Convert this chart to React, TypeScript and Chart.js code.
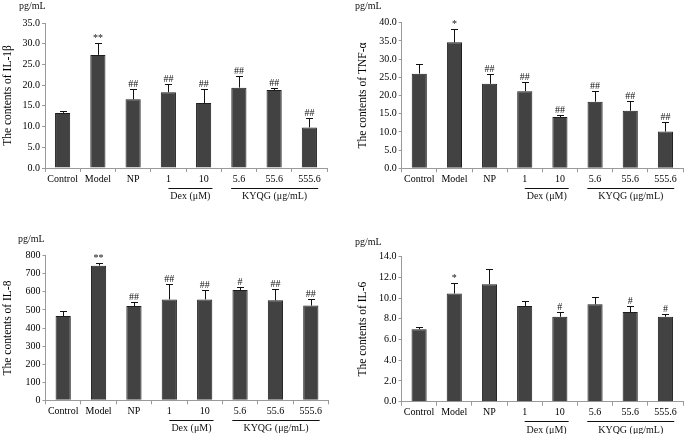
import React, { useEffect, useRef } from 'react';
import { Chart, registerables } from 'chart.js';

Chart.register(...registerables);

// ---------- data ----------
const categories = ['Control', 'Model', 'NP', '1', '10', '5.6', '55.6', '555.6'];

const il1bMeans = [13.3, 27.3, 16.6, 18.3, 15.7, 19.4, 18.8, 9.8];
const il1bSD = [0.5, 2.8, 2.4, 1.9, 3.3, 2.7, 0.4, 2.2];
const il1bMarks = ['', '**', '##', '##', '##', '##', '##', '##'];

const tnfMeans = [26.0, 34.6, 23.2, 21.2, 14.1, 18.3, 15.8, 10.1];
const tnfSD = [2.6, 3.6, 2.7, 2.4, 0.5, 2.8, 2.8, 2.7];
const tnfMarks = ['', '*', '##', '##', '##', '##', '##', '##'];

const il8Means = [466, 745, 522, 558, 558, 610, 553, 524];
const il8SD = [28, 16, 22, 83, 54, 15, 63, 36];
const il8Marks = ['', '**', '##', '##', '##', '#', '##', '##'];

const il6Means = [7.0, 10.45, 11.35, 9.25, 8.2, 9.4, 8.65, 8.2];
const il6SD = [0.24, 0.98, 1.43, 0.47, 0.49, 0.74, 0.55, 0.23];
const il6Marks = ['', '*', '', '', '#', '', '#', '#'];

const groupLabels = ['Dex (μM)', 'KYQG (μg/mL)'];
const groupFrom = [3, 5];
const groupTo = [4, 7];

const unitLabel = 'pg/mL';

// ---------- style ----------
const FONT = '"Liberation Serif", "Times New Roman", serif';
const AXIS = '#9a9a9a';
const BAR_FILL = '#424242';
const BAR_BORDER = '#1e1e1e';

type PanelCfg = {
  title: string;
  means: number[];
  sd: number[];
  marks: string[];
  max: number;
  step: number;
  decimals: number;
  left: number;
  top: number;
  w: number;
  h: number;
  yW: number;
  xH: number;
  padTop: number;
  padRight: number;
  titlePad: number;
  unitX: number;
  unitY: number;
};

const panels: PanelCfg[] = [
  {
    title: 'The contents of IL-1β', means: il1bMeans, sd: il1bSD, marks: il1bMarks,
    max: 35, step: 5, decimals: 1,
    left: 0, top: 0, w: 340, h: 217, yW: 45, xH: 49, padTop: 23, padRight: 13,
    titlePad: 1.5, unitX: 19, unitY: 6,
  },
  {
    title: 'The contents of TNF-α', means: tnfMeans, sd: tnfSD, marks: tnfMarks,
    max: 40, step: 5, decimals: 1,
    left: 340, top: 0, w: 345, h: 217, yW: 61.7, xH: 48.7, padTop: 22.7, padRight: 2,
    titlePad: 16.3, unitX: 15, unitY: 6,
  },
  {
    title: 'The contents of IL-8', means: il8Means, sd: il8SD, marks: il8Marks,
    max: 800, step: 100, decimals: 0,
    left: 0, top: 220, w: 340, h: 214, yW: 45.5, xH: 33.7, padTop: 35.7, padRight: 11.5,
    titlePad: 1.5, unitX: 18, unitY: 19.3,
  },
  {
    title: 'The contents of IL-6', means: il6Means, sd: il6SD, marks: il6Marks,
    max: 14, step: 2, decimals: 1,
    left: 340, top: 220, w: 345, h: 214, yW: 61.5, xH: 32.3, padTop: 36.7, padRight: 2,
    titlePad: 16.3, unitX: 15, unitY: 22.7,
  },
];

function makeExtras(cfg: PanelCfg) {
  return {
    id: 'extras',
    afterDatasetsDraw(chart: any) {
      const ctx = chart.ctx as CanvasRenderingContext2D;
      const xs = chart.scales.x;
      const ys = chart.scales.y;
      const meta = chart.getDatasetMeta(0);
      ctx.save();
      ctx.strokeStyle = '#111';
      ctx.fillStyle = '#111';
      ctx.lineWidth = 1;
      ctx.font = `10px ${FONT}`;
      ctx.textAlign = 'center';
      ctx.textBaseline = 'alphabetic';
      meta.data.forEach((bar: any, i: number) => {
        const m = cfg.means[i];
        const topPx = Math.round(ys.getPixelForValue(m + cfg.sd[i])) + 0.5;
        const basePx = ys.getPixelForValue(m);
        const cx = Math.round(bar.x) + 0.5;
        ctx.beginPath();
        ctx.moveTo(cx, basePx);
        ctx.lineTo(cx, topPx);
        ctx.moveTo(cx - 3.5, topPx);
        ctx.lineTo(cx + 3.5, topPx);
        ctx.stroke();
        if (cfg.marks[i]) {
          ctx.fillText(cfg.marks[i], bar.x, topPx - 2.5);
        }
      });
      // group underlines and labels
      const cat = xs.getPixelForValue(1) - xs.getPixelForValue(0);
      const axisY = chart.chartArea.bottom;
      ctx.textBaseline = 'middle';
      groupLabels.forEach((lab, g) => {
        const x1 = xs.getPixelForValue(groupFrom[g]) - (g === 0 ? 0.0 : 0.22) * cat;
        const x2 = xs.getPixelForValue(groupTo[g]) + 0.25 * cat;
        const ly = Math.round(axisY + 19.5) + 0.5;
        ctx.beginPath();
        ctx.moveTo(x1, ly);
        ctx.lineTo(x2, ly);
        ctx.stroke();
        ctx.fillText(lab, (x1 + x2) / 2, axisY + 28.5);
      });
      // unit label
      ctx.textAlign = 'left';
      ctx.fillText(unitLabel, cfg.unitX, cfg.unitY);
      ctx.restore();
    },
  };
}

function Panel({ cfg }: { cfg: PanelCfg }) {
  const ref = useRef<HTMLCanvasElement>(null);
  useEffect(() => {
    const chart = new Chart(ref.current as HTMLCanvasElement, {
      type: 'bar',
      data: {
        labels: categories,
        datasets: [
          {
            data: cfg.means,
            backgroundColor: BAR_FILL,
            borderColor: BAR_BORDER,
            borderWidth: 1,
            barPercentage: 0.43,
            categoryPercentage: 1,
          },
        ],
      },
      options: {
        responsive: false,
        animation: false,
        devicePixelRatio: 1,
        layout: { padding: { left: 0, right: cfg.padRight, top: cfg.padTop, bottom: 0 } },
        plugins: { legend: { display: false }, tooltip: { enabled: false } },
        scales: {
          x: {
            type: 'category',
            offset: true,
            grid: { offset: true, drawOnChartArea: false, drawTicks: true, tickLength: 4, color: AXIS },
            border: { display: true, color: AXIS, width: 1 },
            ticks: { font: { family: FONT, size: 10 }, color: '#000', padding: 1, maxRotation: 0, autoSkip: false },
            afterFit: (s: any) => { s.height = cfg.xH; },
          },
          y: {
            min: 0,
            max: cfg.max,
            ticks: {
              stepSize: cfg.step,
              font: { family: FONT, size: 10 },
              color: '#000',
              padding: 2,
              callback: (v: any) => Number(v).toFixed(cfg.decimals),
            },
            grid: { drawOnChartArea: false, drawTicks: true, tickLength: 3, color: AXIS },
            border: { display: true, color: AXIS, width: 1 },
            title: {
              display: true,
              text: cfg.title,
              color: '#000',
              font: { family: FONT, size: 11.5 },
              padding: { top: cfg.titlePad, bottom: 0 },
            },
            afterFit: (s: any) => { s.width = cfg.yW; },
          },
        },
      },
      plugins: [makeExtras(cfg)],
    } as any);
    return () => chart.destroy();
  }, [cfg]);
  return (
    <canvas
      ref={ref}
      width={cfg.w}
      height={cfg.h}
      style={{ position: 'absolute', left: cfg.left, top: cfg.top, width: cfg.w, height: cfg.h }}
    />
  );
}

export default function App() {
  return (
    <div style={{ position: 'fixed', left: 0, top: 0, width: 685, height: 434, background: '#fff', overflow: 'hidden' }}>
      {panels.map((p, i) => (
        <Panel key={i} cfg={p} />
      ))}
    </div>
  );
}
